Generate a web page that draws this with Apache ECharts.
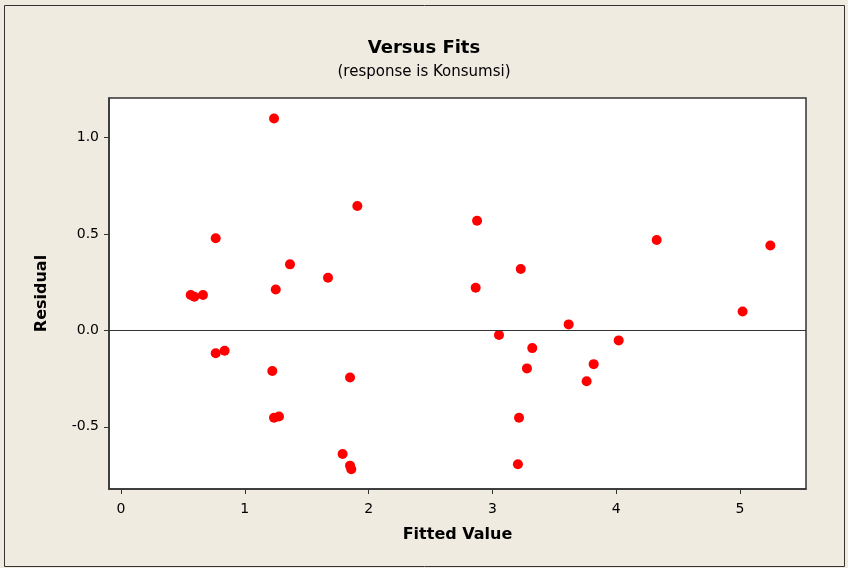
<!DOCTYPE html>
<html>
<head>
<meta charset="utf-8">
<script src="https://cdn.jsdelivr.net/npm/echarts@6/dist/echarts.min.js"></script>
<style>
  html, body { margin: 0; padding: 0; background: #fff; }
  #chart { width: 848px; height: 568px; }
</style>
</head>
<body>
<div id="chart"></div>
<script>
// fitted values (x) and residuals (y)
var fitted = [
  1.236, 0.765, 1.365, 1.672, 1.250, 0.563, 0.592, 0.662, 0.765, 0.837, 1.222,
  1.236, 1.276, 1.790, 1.850, 1.860, 1.850, 1.909, 2.876, 3.229, 2.865, 3.616,
  3.053, 3.322, 3.279, 3.215, 3.206, 4.327, 5.245, 5.021, 4.020, 3.818, 3.761
];
var residuals = [
  1.098, 0.477, 0.342, 0.273, 0.212, 0.183, 0.174, 0.183, -0.119, -0.106, -0.211,
  -0.453, -0.446, -0.641, -0.701, -0.720, -0.244, 0.644, 0.568, 0.318, 0.221, 0.031,
  -0.024, -0.092, -0.197, -0.453, -0.694, 0.468, 0.440, 0.098, -0.052, -0.175, -0.264
];
var xTicks = [0, 1, 2, 3, 4, 5];
var yTicks = [-0.5, 0.0, 0.5, 1.0];

var points = fitted.map(function (v, i) { return [v, residuals[i]]; });

var chart = echarts.init(document.getElementById('chart'));
var font = 'DejaVu Sans';

var option = {
  backgroundColor: '#efebe1',
  animation: false,
  title: {
    text: 'Versus Fits',
    subtext: '(response is Konsumsi)',
    left: 'center',
    top: 34,
    itemGap: 8,
    textStyle: { fontFamily: font, fontSize: 18, fontWeight: 'bold', color: '#000' },
    subtextStyle: { fontFamily: font, fontSize: 15, color: '#000' }
  },
  graphic: [{
    type: 'rect',
    shape: { x: 4.5, y: 5.5, width: 840, height: 561 },
    style: { fill: 'none', stroke: '#333', lineWidth: 1 },
    silent: true
  }],
  grid: {
    left: 109, right: 42, top: 98, bottom: 79,
    show: true,
    backgroundColor: '#fff',
    borderColor: '#333',
    borderWidth: 1.5
  },
  xAxis: {
    type: 'value',
    min: -0.097,
    max: 5.533,
    name: 'Fitted Value',
    nameLocation: 'middle',
    nameGap: 38,
    nameTextStyle: { fontFamily: font, fontSize: 16, fontWeight: 'bold', color: '#000' },
    splitLine: { show: false },
    axisLine: { show: true, onZero: false, lineStyle: { color: '#333', width: 1.5 } },
    axisTick: { show: true, length: 5, customValues: xTicks, lineStyle: { color: '#333' } },
    axisLabel: {
      customValues: xTicks,
      showMinLabel: true, showMaxLabel: true,
      fontFamily: font, fontSize: 14, color: '#000', margin: 13
    }
  },
  yAxis: {
    type: 'value',
    min: -0.822,
    max: 1.204,
    name: 'Residual',
    nameLocation: 'middle',
    nameGap: 59,
    nameRotate: 90,
    nameTextStyle: { fontFamily: font, fontSize: 16, fontWeight: 'bold', color: '#000' },
    splitLine: { show: false },
    axisLine: { show: true, onZero: false, lineStyle: { color: '#333', width: 1.5 } },
    axisTick: { show: true, length: 5, customValues: yTicks, lineStyle: { color: '#333' } },
    axisLabel: {
      customValues: yTicks,
      fontFamily: font, fontSize: 14, color: '#000', margin: 10,
      formatter: function (v) { return v.toFixed(1); }
    }
  },
  series: [{
    type: 'scatter',
    data: points,
    symbol: 'circle',
    symbolSize: 10,
    itemStyle: { color: '#ff0000', opacity: 1 },
    markLine: {
      silent: true,
      symbol: 'none',
      label: { show: false },
      lineStyle: { color: '#333', width: 1.2, type: 'solid' },
      data: [{ yAxis: 0 }]
    }
  }]
};

chart.setOption(option);
</script>
</body>
</html>
